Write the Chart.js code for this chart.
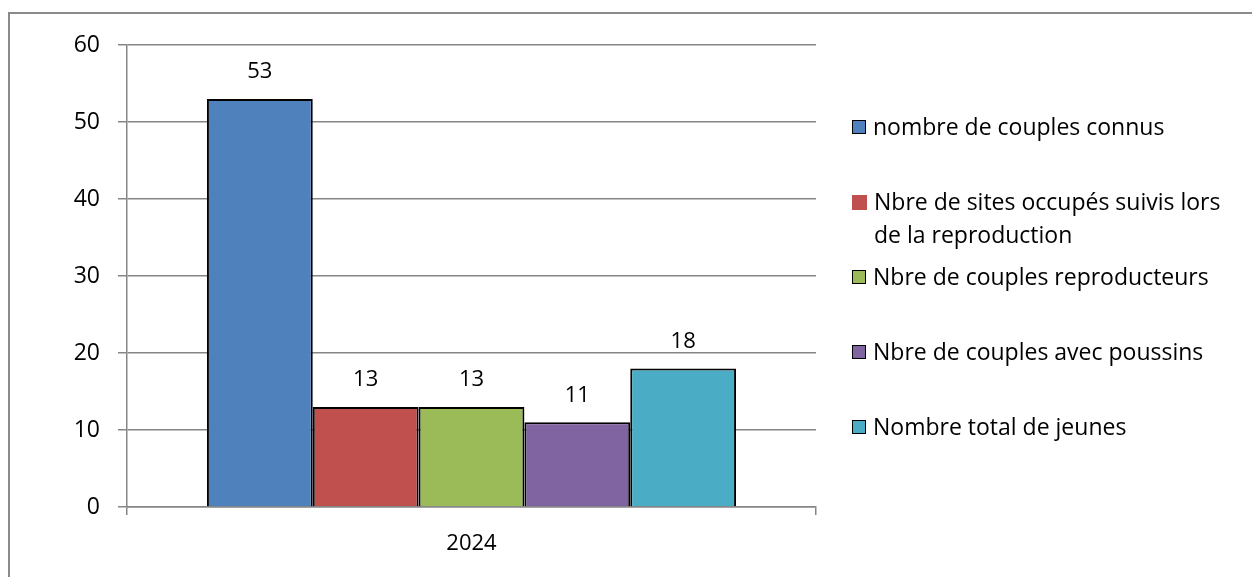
<!DOCTYPE html>
<html>
<head>
<meta charset="utf-8">
<script src="https://cdn.jsdelivr.net/npm/chart.js@4/dist/chart.umd.min.js"></script>
<style>
html, body { margin: 0; padding: 0; background: #fff; }
#wrap { position: relative; width: 1252px; height: 577px; overflow: hidden; font-family: "Open Sans", sans-serif; background: #fff; }
#frame { position: absolute; left: 8px; top: 12px; width: 1400px; height: 800px; border-left: 2px solid #8a8a8a; border-top: 2px solid #8a8a8a; }
#chartBox { position: absolute; left: 0; top: 0; width: 1252px; height: 577px; }
#legend { position: absolute; left: 852px; top: 110px; width: 395px; }
.item { display: flex; align-items: flex-start; height: 75px; }
.box { flex: 0 0 auto; width: 12px; height: 12px; margin-top: 10px; border: 1.5px solid #000; }
.box.noborder { width: 15px; height: 15px; border: none; }
.txt { margin-left: 7px; width: 358px; line-height: 33px; font-size: 23px; color: #000; }
</style>
</head>
<body>
<div id="wrap">
  <div id="frame"></div>
  <div id="chartBox"><canvas id="c"></canvas></div>
  <div id="legend"></div>
</div>
<script>
const categories = ['2024'];
const seriesNames = [
  'nombre de couples connus',
  'Nbre de sites occupés suivis lors de la reproduction',
  'Nbre de couples reproducteurs',
  'Nbre de couples avec poussins',
  'Nombre total de jeunes'
];
const seriesConnus = [53];
const seriesSites = [13];
const seriesReproducteurs = [13];
const seriesPoussins = [11];
const seriesJeunes = [18];
const seriesColors = ['#4F81BD', '#C0504D', '#9BBB59', '#8064A2', '#4BACC6'];
const legendMarkerBorder = [true, false, true, true, true];
const yTickValues = [0, 10, 20, 30, 40, 50, 60];

const allSeries = [seriesConnus, seriesSites, seriesReproducteurs, seriesPoussins, seriesJeunes];
const FAMILY = '"Open Sans", sans-serif';
const GRID = '#868686';

const datasets = allSeries.map((vals, i) => ({
  label: seriesNames[i],
  data: vals,
  backgroundColor: seriesColors[i],
  borderColor: '#000',
  borderWidth: 2,
  categoryPercentage: 0.768,
  barPercentage: 1.0
}));

const valueLabels = {
  id: 'valueLabels',
  afterDatasetsDraw(chart) {
    const ctx = chart.ctx;
    ctx.save();
    ctx.font = '22px ' + FAMILY;
    ctx.fillStyle = '#000';
    ctx.textAlign = 'center';
    ctx.textBaseline = 'middle';
    chart.data.datasets.forEach((ds, i) => {
      const meta = chart.getDatasetMeta(i);
      meta.data.forEach((bar, j) => {
        ctx.fillText(String(ds.data[j]), bar.x, bar.y - 27);
      });
    });
    ctx.restore();
  }
};

new Chart(document.getElementById('c'), {
  type: 'bar',
  data: { labels: categories, datasets },
  options: {
    responsive: true,
    maintainAspectRatio: false,
    animation: false,
    devicePixelRatio: 1,
    layout: { padding: { top: 45, right: 436, bottom: 0, left: 0 } },
    plugins: { legend: { display: false }, tooltip: { enabled: false } },
    scales: {
      x: {
        offset: true,
        grid: { display: true, drawOnChartArea: false, drawTicks: true, tickLength: 8, color: GRID, offset: true, lineWidth: 1.5 },
        border: { display: true, color: GRID, width: 1.5 },
        ticks: { font: { family: FAMILY, size: 22 }, color: '#000', padding: 16 },
        afterFit(scale) { scale.height = 70; }
      },
      y: {
        min: 0, max: 60,
        afterBuildTicks(scale) { scale.ticks = yTickValues.map(v => ({ value: v })); },
        grid: { color: GRID, tickLength: 9, drawTicks: true, lineWidth: 1.5 },
        border: { display: true, color: GRID, width: 1.5 },
        ticks: { font: { family: FAMILY, size: 23 }, color: '#000', padding: 18 },
        afterFit(scale) { scale.width = 127; }
      }
    }
  },
  plugins: [valueLabels]
});

const legend = document.getElementById('legend');
seriesNames.forEach((name, i) => {
  const item = document.createElement('div');
  item.className = 'item';
  const box = document.createElement('div');
  box.className = 'box' + (legendMarkerBorder[i] ? '' : ' noborder');
  box.style.background = seriesColors[i];
  const txt = document.createElement('div');
  txt.className = 'txt';
  txt.textContent = name;
  item.appendChild(box);
  item.appendChild(txt);
  legend.appendChild(item);
});
</script>
</body>
</html>
